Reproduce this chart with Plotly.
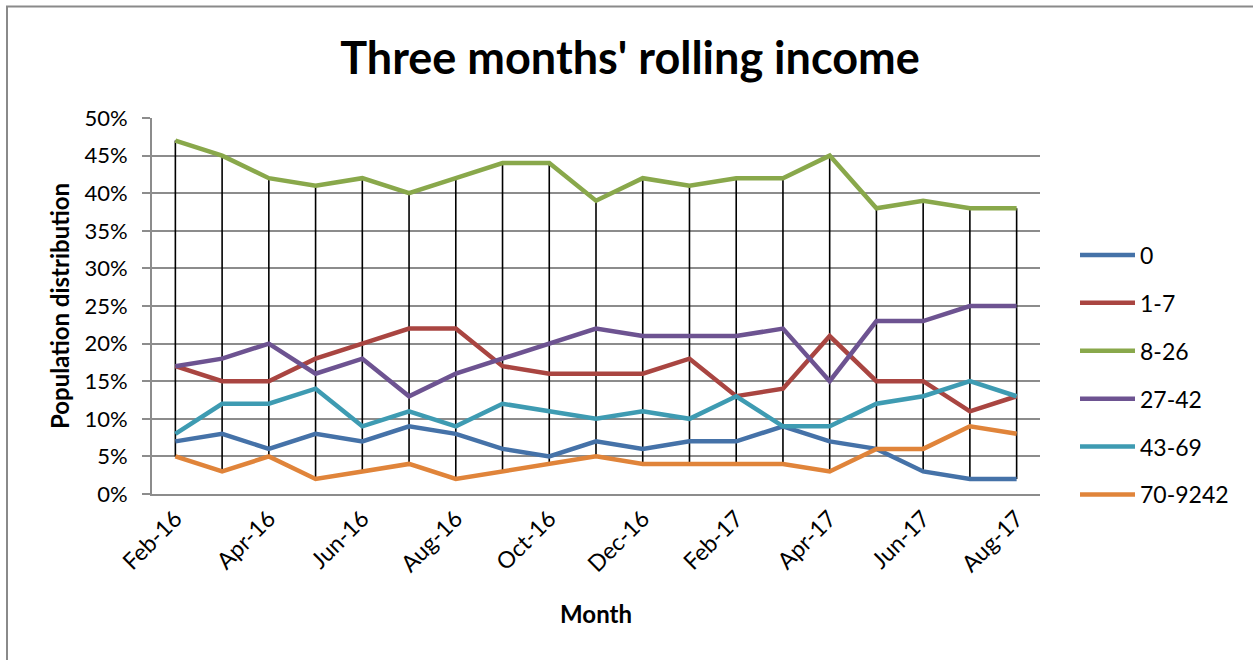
import plotly.graph_objects as go

# Monthly categories (Feb-16 .. Aug-17)
months = ["Feb-16", "Mar-16", "Apr-16", "May-16", "Jun-16", "Jul-16", "Aug-16",
          "Sep-16", "Oct-16", "Nov-16", "Dec-16", "Jan-17", "Feb-17", "Mar-17",
          "Apr-17", "May-17", "Jun-17", "Jul-17", "Aug-17"]
tick_labels = months[::2]

# Share of population per income band (%)
band_0 = [7, 8, 6, 8, 7, 9, 8, 6, 5, 7, 6, 7, 7, 9, 7, 6, 3, 2, 2]
band_1_7 = [17, 15, 15, 18, 20, 22, 22, 17, 16, 16, 16, 18, 13, 14, 21, 15, 15, 11, 13]
band_8_26 = [47, 45, 42, 41, 42, 40, 42, 44, 44, 39, 42, 41, 42, 42, 45, 38, 39, 38, 38]
band_27_42 = [17, 18, 20, 16, 18, 13, 16, 18, 20, 22, 21, 21, 21, 22, 15, 23, 23, 25, 25]
band_43_69 = [8, 12, 12, 14, 9, 11, 9, 12, 11, 10, 11, 10, 13, 9, 9, 12, 13, 15, 13]
band_70_9242 = [5, 3, 5, 2, 3, 4, 2, 3, 4, 5, 4, 4, 4, 4, 3, 6, 6, 9, 8]

series_names = ["0", "1-7", "8-26", "27-42", "43-69", "70-9242"]
series_values = [band_0, band_1_7, band_8_26, band_27_42, band_43_69, band_70_9242]
series_colors = ["#4572A8", "#A94541", "#89A84B", "#6D5391", "#3E9BB2", "#E0843A"]

W, H = 1253, 660
L, R, T, B = 152, 1040, 118, 494  # plot area in pixels


def px_x(p):
    return (p - L) / (R - L)


def px_y(p):
    return (B - p) / (B - T)


fig = go.Figure()

# High-low lines: from the highest to the lowest band value in each month
hl_x, hl_y = [], []
for i, m in enumerate(months):
    vals = [s[i] / 100 for s in series_values]
    hl_x += [m, m, None]
    hl_y += [max(vals), min(vals), None]
fig.add_trace(go.Scatter(x=hl_x, y=hl_y, mode="lines",
                         line=dict(color="black", width=1.6),
                         showlegend=False, hoverinfo="skip"))

for name, vals, col in zip(series_names, series_values, series_colors):
    fig.add_trace(go.Scatter(
        x=months, y=[v / 100 for v in vals], name=name, mode="lines",
        legendgroup=name,
        line=dict(color=col, width=4.5),
    ))

font_family = "Lato, 'Open Sans', sans-serif"

fig.update_layout(
    width=W, height=H,
    margin=dict(l=L, r=W - R, t=T, b=H - B),
    paper_bgcolor="white", plot_bgcolor="white",
    font=dict(family=font_family, color="black", size=22),
    title=dict(text="<b>Three months' rolling income</b>",
               x=px_x(630), xref="paper", xanchor="center",
               y=1 - 58 / H, yanchor="middle",
               font=dict(size=45, family=font_family, color="black")),
    showlegend=True,
    legend=dict(x=px_x(1075), xanchor="left", y=px_y(375), yanchor="middle",
                tracegroupgap=15, itemwidth=55,
                font=dict(size=23, family=font_family),
                bgcolor="rgba(0,0,0,0)"),
    xaxis=dict(
        type="category", categoryorder="array", categoryarray=months,
        range=[-0.5, len(months) - 0.5],
        tickmode="array", tickvals=tick_labels, ticktext=tick_labels,
        tickangle=-45, tickfont=dict(size=23),
        showgrid=False, showline=True, linecolor="#8C8C8C", linewidth=2,
        ticks="", zeroline=False,
        title=dict(text="<b>Month</b>", font=dict(size=24), standoff=30),
    ),
    yaxis=dict(
        range=[0, 0.5], tickmode="array",
        tickvals=[i / 100 for i in range(0, 51, 5)], tickformat=".0%",
        showgrid=True, gridcolor="#8C8C8C", gridwidth=2,
        showline=True, linecolor="#8C8C8C", linewidth=2,
        ticks="outside", ticklen=8, tickcolor="#8C8C8C", tickwidth=2,
        ticklabelstandoff=10,
        zeroline=False, tickfont=dict(size=22),
        title=dict(text="<b>Population distribution</b>", font=dict(size=24),
                   standoff=8),
    ),
    shapes=[dict(type="rect", xref="paper", yref="paper",
                 x0=px_x(7), x1=px_x(1258), y0=px_y(675), y1=px_y(6.5),
                 line=dict(color="#8A8A8A", width=2), layer="below")],
)

fig.write_html("out.html")
